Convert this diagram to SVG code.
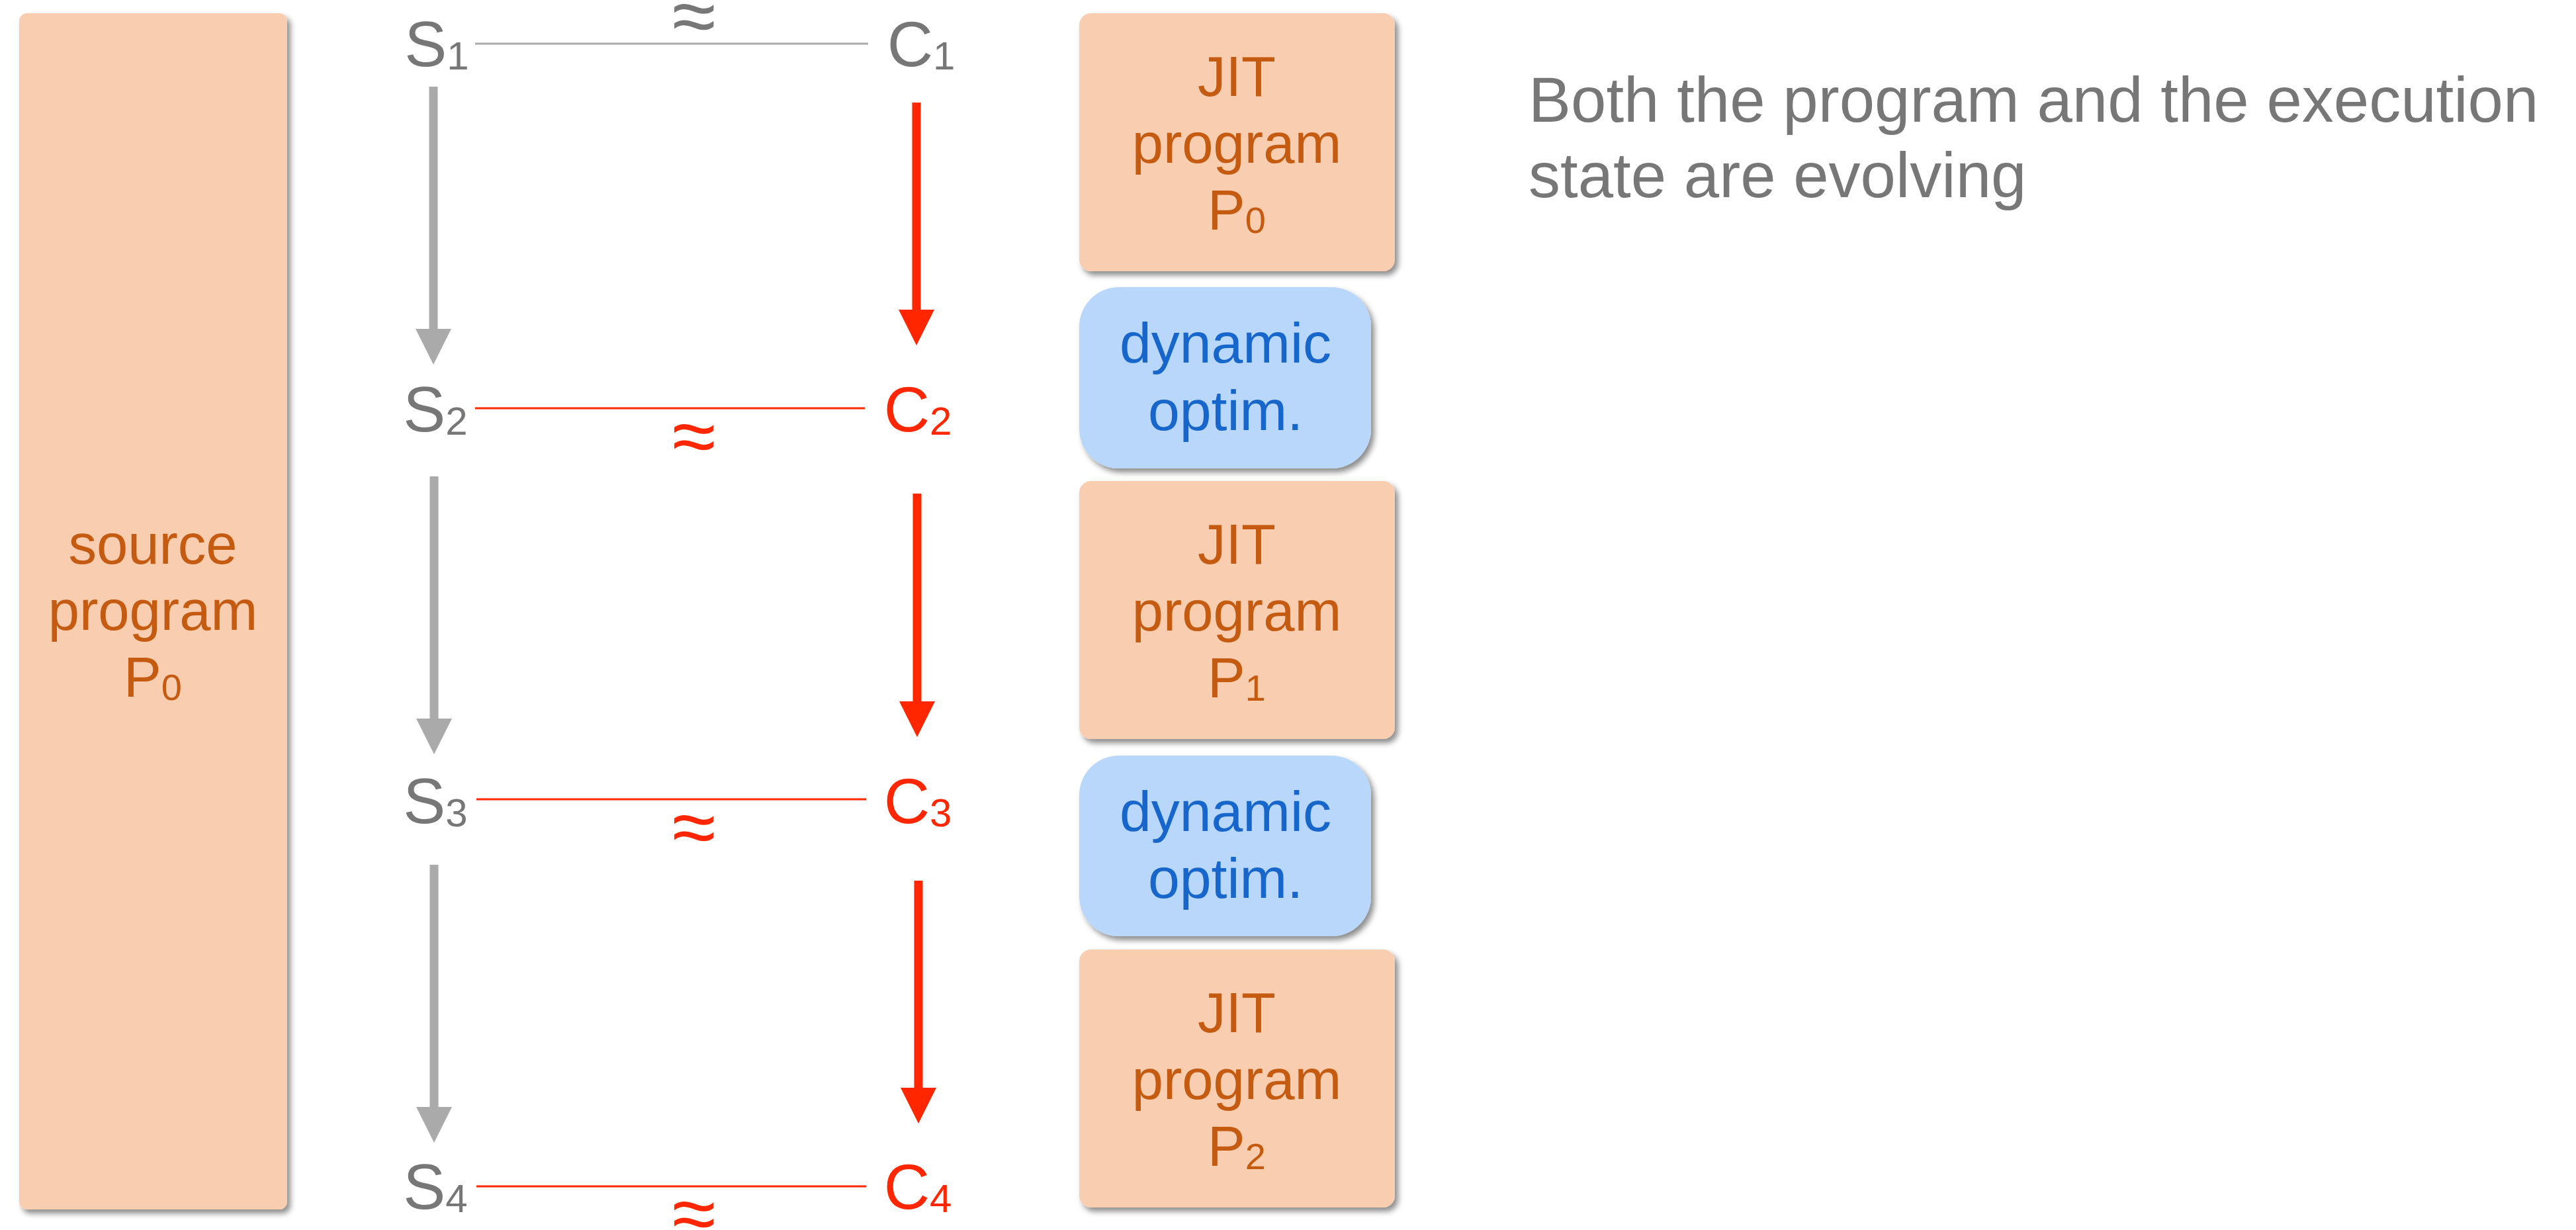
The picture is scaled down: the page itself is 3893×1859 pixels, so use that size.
<svg xmlns="http://www.w3.org/2000/svg" width="3893" height="1859" viewBox="0 0 3893 1859">
<style>
.box{fill:#F8CDB0;filter:url(#sh)}
.opt{fill:#B8D7FA;filter:url(#sh)}
.bt{font-family:"Liberation Sans",Arial,sans-serif;font-size:85px;fill:#C55A11;text-anchor:middle}
.ot{font-family:"Liberation Sans",Arial,sans-serif;font-size:86px;fill:#1766CC;text-anchor:middle}
.st{font-family:"Liberation Sans",Arial,sans-serif;font-size:96px;fill:#777777;text-anchor:middle}
.ct{font-family:"Liberation Sans",Arial,sans-serif;font-size:96px;fill:#FF2600;text-anchor:middle}
.ct1{fill:#777777}
.sub{font-size:60px}
.bsub{font-size:56px}
.ap{font-family:"Liberation Sans",Arial,sans-serif;font-size:120px;text-anchor:middle}
.note{font-family:"Liberation Sans",Arial,sans-serif;font-size:96px;fill:#777777}
.ga{stroke:#AAAAAA;stroke-width:13;marker-end:url(#hg)}
.ra{stroke:#FF2600;stroke-width:13;marker-end:url(#hr)}
.gl{stroke:#AAAAAA;stroke-width:3}
.rl{stroke:#FF2600;stroke-width:3}
</style>
<defs>
<filter id="sh" x="-10%" y="-10%" width="130%" height="130%">
<feDropShadow dx="5" dy="6" stdDeviation="4" flood-color="#000" flood-opacity="0.45"/>
</filter>
<marker id="hg" viewBox="0 0 54 54" markerWidth="54" markerHeight="54" markerUnits="userSpaceOnUse" refX="1" refY="27" orient="auto">
<path d="M0,0 L54,27 L0,54 Z" fill="#AAAAAA"/>
</marker>
<marker id="hr" viewBox="0 0 54 54" markerWidth="54" markerHeight="54" markerUnits="userSpaceOnUse" refX="1" refY="27" orient="auto">
<path d="M0,0 L54,27 L0,54 Z" fill="#FF2600"/>
</marker>
</defs>
<rect width="3893" height="1859" fill="#FFFFFF"/>

<g id="source">
<rect class="box" x="29" y="20" width="405" height="1808" rx="12"/>
<text class="bt" x="231" y="852">source</text>
<text class="bt" x="231" y="952">program</text>
<text class="bt" x="231" y="1053">P<tspan class="bsub" dy="5">0</tspan></text>
</g>

<g id="jit0">
<rect class="box" x="1631" y="20" width="477" height="390" rx="18"/>
<text class="bt" x="1869" y="145">JIT</text>
<text class="bt" x="1869" y="246">program</text>
<text class="bt" x="1869" y="347">P<tspan class="bsub" dy="5">0</tspan></text>
</g>
<g id="opt1">
<rect class="opt" x="1631" y="434" width="441" height="274" rx="60"/>
<text class="ot" x="1852" y="548">dynamic</text>
<text class="ot" x="1852" y="650">optim.</text>
</g>
<g id="jit1">
<rect class="box" x="1631" y="727" width="477" height="390" rx="18"/>
<text class="bt" x="1869" y="852">JIT</text>
<text class="bt" x="1869" y="953">program</text>
<text class="bt" x="1869" y="1054">P<tspan class="bsub" dy="5">1</tspan></text>
</g>
<g id="opt2">
<rect class="opt" x="1631" y="1142" width="441" height="273" rx="60"/>
<text class="ot" x="1852" y="1256">dynamic</text>
<text class="ot" x="1852" y="1357">optim.</text>
</g>
<g id="jit2">
<rect class="box" x="1631" y="1435" width="477" height="390" rx="18"/>
<text class="bt" x="1869" y="1560">JIT</text>
<text class="bt" x="1869" y="1661">program</text>
<text class="bt" x="1869" y="1762">P<tspan class="bsub" dy="5">2</tspan></text>
</g>

<g id="s1"><text class="st" x="660" y="100">S<tspan class="sub" dy="5">1</tspan></text></g>
<g id="s2"><text class="st" x="658" y="652">S<tspan class="sub" dy="5">2</tspan></text></g>
<g id="s3"><text class="st" x="658" y="1244">S<tspan class="sub" dy="5">3</tspan></text></g>
<g id="s4"><text class="st" x="658" y="1827">S<tspan class="sub" dy="5">4</tspan></text></g>
<g id="c1"><text class="ct ct1" x="1392" y="100">C<tspan class="sub" dy="5">1</tspan></text></g>
<g id="c2"><text class="ct" x="1387" y="652">C<tspan class="sub" dy="5">2</tspan></text></g>
<g id="c3"><text class="ct" x="1387" y="1244">C<tspan class="sub" dy="5">3</tspan></text></g>
<g id="c4"><text class="ct" x="1387" y="1827">C<tspan class="sub" dy="5">4</tspan></text></g>

<g id="connectors">
<line class="gl" x1="718" y1="66" x2="1312" y2="66"/>
<text class="ap" x="1049" y="65" fill="#777777">≈</text>
<line class="rl" x1="718" y1="617" x2="1307" y2="617"/>
<text class="ap" x="1049" y="700" fill="#FF2600">≈</text>
<line class="rl" x1="720" y1="1208" x2="1309" y2="1208"/>
<text class="ap" x="1049" y="1291" fill="#FF2600">≈</text>
<line class="rl" x1="720" y1="1793" x2="1309" y2="1793"/>
<text class="ap" x="1049" y="1875" fill="#FF2600">≈</text>

<line class="ga" x1="655" y1="131" x2="655" y2="498"/>
<line class="ga" x1="656" y1="720" x2="656" y2="1087"/>
<line class="ga" x1="656" y1="1307" x2="656" y2="1674"/>
<line class="ra" x1="1385" y1="155" x2="1385" y2="469"/>
<line class="ra" x1="1386" y1="746" x2="1386" y2="1061"/>
<line class="ra" x1="1388" y1="1331" x2="1388" y2="1645"/>
</g>

<g id="note">
<text class="note" x="2310" y="184">Both the program and the execution</text>
<text class="note" x="2310" y="298">state are evolving</text>
</g>
</svg>
